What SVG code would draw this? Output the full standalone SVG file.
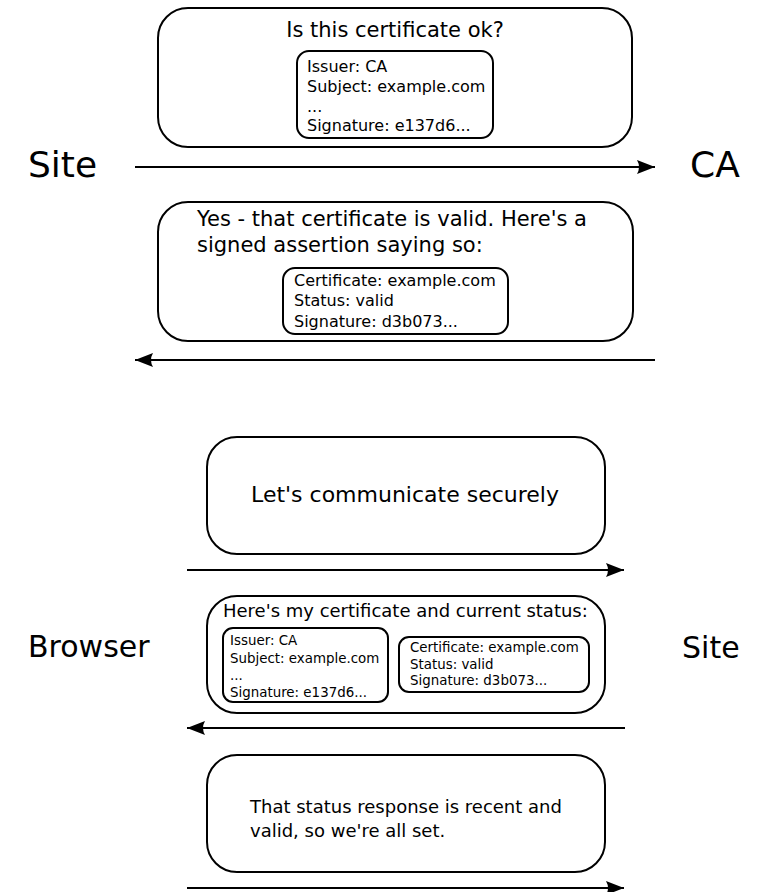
<svg xmlns="http://www.w3.org/2000/svg" width="759" height="892" viewBox="0 0 759 892">
  <style>
    .box { fill: #ffffff; stroke: #000000; stroke-width: 2; }
    .inner { fill: #ffffff; stroke: #000000; stroke-width: 2; }
    .msg { stroke: #000000; stroke-width: 2; fill: none; marker-end: url(#head); }
    text { font-family: "DejaVu Sans", "Liberation Sans", sans-serif; fill: #000000; }
    .actor { font-size: 36px; }
    .actor2 { font-size: 30px; }
    .t21 { font-size: 21px; }
    .t16 { font-size: 16px; }
    .t22 { font-size: 22px; }
    .t18 { font-size: 18px; }
    .t13 { font-size: 13.4px; }
  </style>
  <defs>
    <marker id="head" viewBox="0 0 18 14" refX="18" refY="7" markerWidth="18" markerHeight="14" markerUnits="userSpaceOnUse" orient="auto">
      <path d="M0,0 L18,7 L0,14 Q4,7 0,0 Z" fill="#000000"/>
    </marker>
  </defs>

  <!-- Site / CA exchange -->
  <g id="label-site-top"><text class="actor" x="28" y="177">Site</text></g>
  <g id="label-ca"><text class="actor" x="690" y="177">CA</text></g>

  <g id="msg-query">
    <rect class="box" x="158" y="8" width="474" height="139" rx="30" ry="30"/>
    <text class="t21" x="395" y="37" text-anchor="middle">Is this certificate ok?</text>
    <rect class="inner" x="297" y="51" width="196" height="87" rx="12" ry="12"/>
    <text class="t16" x="307" y="72">Issuer: CA</text>
    <text class="t16" x="307" y="92">Subject: example.com</text>
    <text class="t16" x="307" y="112">...</text>
    <text class="t16" x="307" y="131">Signature: e137d6...</text>
  </g>

  <g id="msg-assertion">
    <rect class="box" x="158" y="202" width="475" height="139" rx="30" ry="30"/>
    <text class="t21" x="197" y="226">Yes - that certificate is valid. Here's a</text>
    <text class="t21" x="197" y="252">signed assertion saying so:</text>
    <rect class="inner" x="283" y="268" width="225" height="66" rx="12" ry="12"/>
    <text class="t16" x="294" y="285.5">Certificate: example.com</text>
    <text class="t16" x="294" y="305.5">Status: valid</text>
    <text class="t16" x="294" y="326.5">Signature: d3b073...</text>
  </g>

  <!-- Browser / Site exchange -->
  <g id="label-browser"><text class="actor2" x="28" y="657">Browser</text></g>
  <g id="label-site-bottom"><text class="actor2" x="682" y="658">Site</text></g>

  <g id="msg-hello">
    <rect class="box" x="207" y="437" width="398" height="117" rx="30" ry="30"/>
    <text class="t22" x="405" y="502" text-anchor="middle">Let's communicate securely</text>
  </g>

  <g id="msg-certificate">
    <rect class="box" x="207" y="596" width="398" height="117" rx="30" ry="30"/>
    <text class="t18" x="223" y="617">Here's my certificate and current status:</text>
    <rect class="inner" x="223" y="628" width="165" height="74" rx="10" ry="10"/>
    <text class="t13" x="230" y="645">Issuer: CA</text>
    <text class="t13" x="230" y="662.5">Subject: example.com</text>
    <text class="t13" x="230" y="680">...</text>
    <text class="t13" x="230" y="696.5">Signature: e137d6...</text>
    <rect class="inner" x="399" y="637" width="190" height="55" rx="10" ry="10"/>
    <text class="t13" x="410" y="652">Certificate: example.com</text>
    <text class="t13" x="410" y="668.5">Status: valid</text>
    <text class="t13" x="410" y="684.5">Signature: d3b073...</text>
  </g>

  <g id="msg-confirm">
    <rect class="box" x="207" y="755" width="398" height="117" rx="30" ry="30"/>
    <text class="t18" x="250" y="813">That status response is recent and</text>
    <text class="t18" x="250" y="837">valid, so we're all set.</text>
  </g>

  <g id="connectors">
    <line class="msg" x1="135" y1="167" x2="655" y2="167"/>
    <line class="msg" x1="655" y1="360" x2="135" y2="360"/>
    <line class="msg" x1="187" y1="570" x2="624" y2="570"/>
    <line class="msg" x1="625" y1="728" x2="187" y2="728"/>
    <line class="msg" x1="187" y1="888" x2="624" y2="888"/>
  </g>
</svg>
